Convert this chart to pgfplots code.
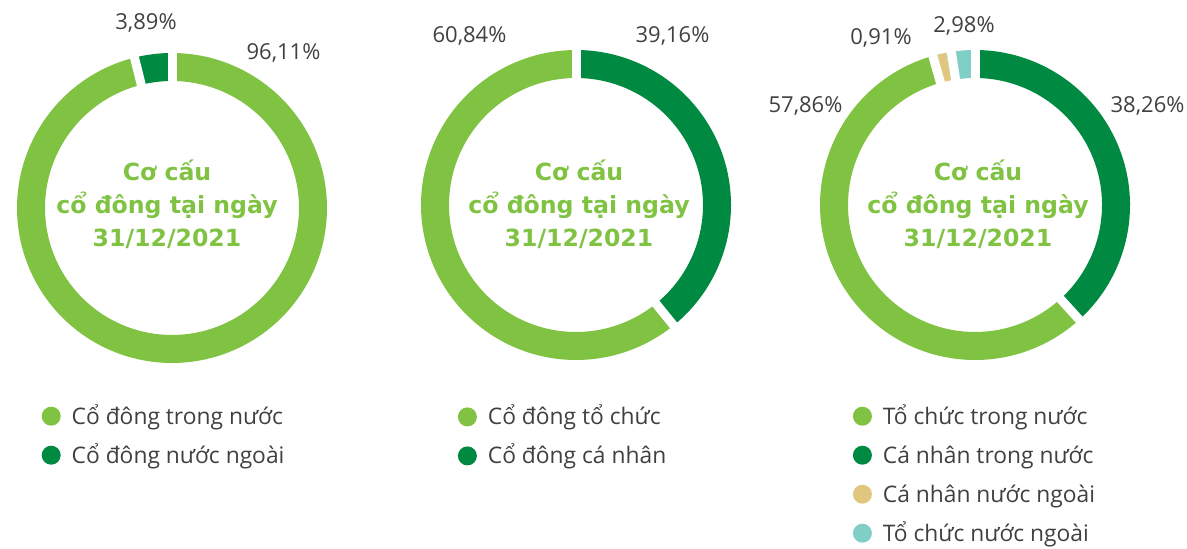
\documentclass[border=0pt]{standalone}
\usepackage{fontspec}
\setmainfont{Open Sans}
\newfontfamily\ctr{DejaVu Sans}
\usepackage{pgfplots}
\pgfplotsset{compat=1.18}
\definecolor{lg}{RGB}{128,194,66}
\definecolor{dg}{RGB}{0,137,64}
\definecolor{bg}{RGB}{224,198,126}
\definecolor{tl}{RGB}{128,207,198}
\definecolor{tx}{RGB}{64,64,64}
\pgfplotsset{
  donut/.style={x=1pt,y=1pt,hide axis,clip=false,anchor=south west,at={(0pt,0pt)},
    legend image code/.code={\fill[##1] (9.5pt,0pt) circle[radius=9.5pt];},
    legend style={draw=none,fill=none,anchor=north west,inner xsep=0pt,inner ysep=0pt,
      row sep=13.3pt,column sep=11pt,font=\fontsize{22.8}{27}\selectfont,text=tx,
      nodes={inner sep=0pt,text height=20.7pt,text depth=5pt}},
    legend cell align=left},
  seg/.style={data cs=polar,line width=28pt,no marks,line cap=butt,forget plot},
  gap/.style={data cs=polar,white,line width=9pt,no marks,forget plot},
}
\tikzset{
  pct/.style={font=\fontsize{22}{26}\selectfont,text=tx,anchor=base,inner sep=0pt},
  ctrtxt/.style={font=\ctr\bfseries\fontsize{23.6}{28}\selectfont,text=lg,anchor=base,inner sep=0pt},
}
\begin{document}
\begin{tikzpicture}
\useasboundingbox (0,0) rectangle (1187pt,549pt);
% ---------- Donut 1 ----------
\begin{axis}[donut,xmin=-172,xmax=1015,ymin=-341,ymax=208,
  legend style={at={(0.03496,0.26567)}}]
\addlegendimage{draw=none,fill=lg}\addlegendentry{Cổ đông trong nước}
\addlegendimage{draw=none,fill=dg}\addlegendentry{Cổ đông nước ngoài}
% 96.11 / 3.89 (start at top, clockwise)
\addplot[seg,lg,domain=-256.0:90,samples=200] {141};
\addplot[seg,dg,domain=-270:-256.0,samples=12] {141};
\addplot[gap] coordinates {(90,118) (90,164)};
\addplot[gap] coordinates {(-256.0,118) (-256.0,164)};
\node[pct] at (axis cs:-26,178) {3,89\%};
\node[pct] at (axis cs:111.5,148) {96,11\%};
\node[ctrtxt] at (axis cs:-5,27) {Cơ cấu};
\node[ctrtxt] at (axis cs:-5,-6) {cổ đông tại ngày};
\node[ctrtxt] at (axis cs:-5,-39) {31/12/2021};
\end{axis}
% ---------- Donut 2 ----------
\begin{axis}[donut,xmin=-576,xmax=611,ymin=-344,ymax=205,
  legend style={at={(0.38559,0.26439)}}]
\addlegendimage{draw=none,fill=lg}\addlegendentry{Cổ đông tổ chức}
\addlegendimage{draw=none,fill=dg}\addlegendentry{Cổ đông cá nhân}
% 39.16 / 60.84
\addplot[seg,dg,domain=-50.976:90,samples=120] {141};
\addplot[seg,lg,domain=-270:-50.976,samples=180] {141};
\addplot[gap] coordinates {(90,118) (90,164)};
\addplot[gap] coordinates {(-50.976,118) (-50.976,164)};
\node[pct] at (axis cs:-106.5,162) {60,84\%};
\node[pct] at (axis cs:96.5,162) {39,16\%};
\node[ctrtxt] at (axis cs:3,24) {Cơ cấu};
\node[ctrtxt] at (axis cs:3,-9) {cổ đông tại ngày};
\node[ctrtxt] at (axis cs:3,-42) {31/12/2021};
\end{axis}
% ---------- Donut 3 ----------
\begin{axis}[donut,xmin=-975,xmax=212,ymin=-344,ymax=205,
  legend style={at={(0.71837,0.26567)}}]
\addlegendimage{draw=none,fill=lg}\addlegendentry{Tổ chức trong nước}
\addlegendimage{draw=none,fill=dg}\addlegendentry{Cá nhân trong nước}
\addlegendimage{draw=none,fill=bg}\addlegendentry{Cá nhân nước ngoài}
\addlegendimage{draw=none,fill=tl}\addlegendentry{Tổ chức nước ngoài}
% 38.26 / 57.86 / 0.91 / 2.98
\addplot[seg,dg,domain=-47.736:90,samples=120] {141};
\addplot[seg,lg,domain=-256.032:-47.736,samples=180] {141};
\addplot[seg,bg,domain=-259.308:-256.032,samples=6] {141};
\addplot[seg,tl,domain=-270:-259.308,samples=10] {141};
\addplot[gap] coordinates {(90,118) (90,164)};
\addplot[gap] coordinates {(-47.736,118) (-47.736,164)};
\addplot[gap] coordinates {(-254.2,118) (-254.2,164)};
\addplot[gap] coordinates {(-261.2,118) (-261.2,164)};
\node[pct] at (axis cs:-94,160) {0,91\%};
\node[pct] at (axis cs:-11,172) {2,98\%};
\node[pct] at (axis cs:172.5,92) {38,26\%};
\node[pct] at (axis cs:-169.5,92) {57,86\%};
\node[ctrtxt] at (axis cs:3,24) {Cơ cấu};
\node[ctrtxt] at (axis cs:3,-9) {cổ đông tại ngày};
\node[ctrtxt] at (axis cs:3,-42) {31/12/2021};
\end{axis}
\end{tikzpicture}
\end{document}
